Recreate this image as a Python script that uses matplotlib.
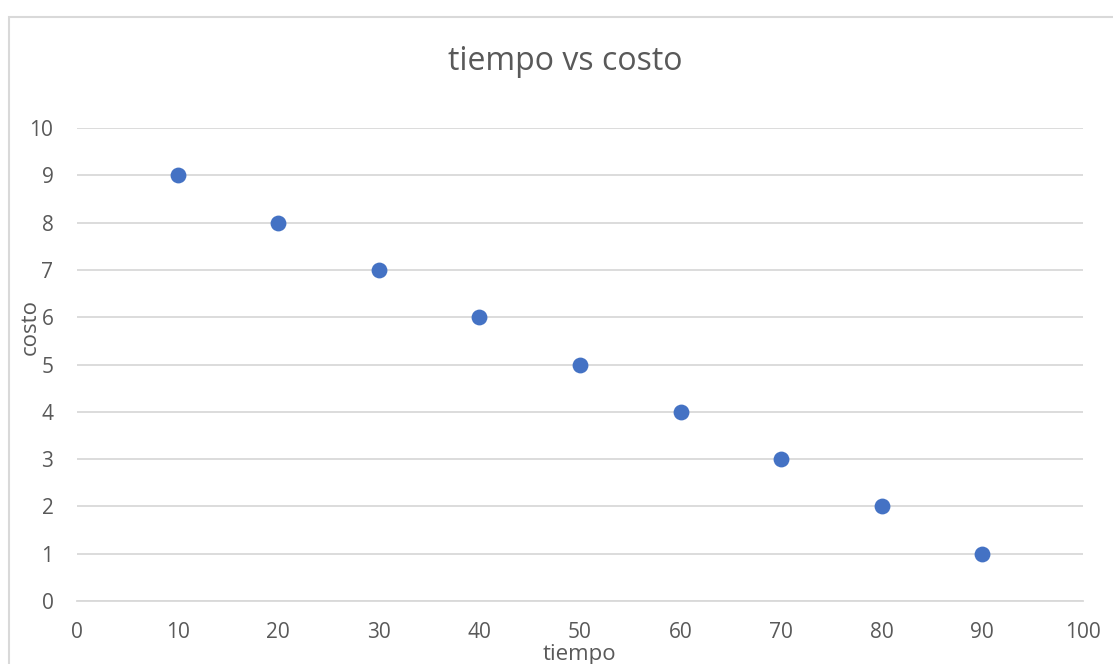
import matplotlib.pyplot as plt
from matplotlib.patches import Rectangle

tiempo = [10, 20, 30, 40, 50, 60, 70, 80, 90]
costo = [9, 8, 7, 6, 5, 4, 3, 2, 1]
ticks_x = [0, 10, 20, 30, 40, 50, 60, 70, 80, 90, 100]
ticks_y = [0, 1, 2, 3, 4, 5, 6, 7, 8, 9, 10]

plt.rcParams['font.family'] = ['Open Sans', 'DejaVu Sans']
gris_texto = '#595959'
gris_linea = '#d9d9d9'

fig = plt.figure(figsize=(11.13, 6.64), dpi=100)
ax = fig.add_axes([0.0692, 0.0949, 0.9038, 0.7123])

ax.scatter(tiempo, costo, s=130, color='#4472C4', zorder=3, linewidths=0)

ax.set_xlim(0, 100)
ax.set_ylim(0, 10)
ax.set_xticks(ticks_x)
ax.set_yticks(ticks_y)
ax.grid(axis='y', color=gris_linea, linewidth=1.3)
ax.set_axisbelow(True)
for lado in ['top', 'right', 'left']:
    ax.spines[lado].set_visible(False)
ax.spines['bottom'].set_color(gris_linea)
ax.spines['bottom'].set_linewidth(1.3)
ax.tick_params(axis='both', length=0, labelsize=15, colors=gris_texto)
ax.tick_params(axis='x', pad=15)
ax.tick_params(axis='y', pad=17)

fig.text(0.508, 0.907, 'tiempo vs costo', ha='center', va='center',
         fontsize=23, color=gris_texto)
fig.text(0.521, 0.014, 'tiempo', ha='center', va='center',
         fontsize=16, color=gris_texto)
fig.text(0.027, 0.508, 'costo', ha='center', va='center', rotation=90,
         fontsize=16, color=gris_texto)

# borde del grafico
fig.patches.append(Rectangle((8.5 / 1113, -0.05), 1.2, 1 - 16.5 / 664 + 0.05,
                             transform=fig.transFigure, fill=False,
                             edgecolor=gris_linea, linewidth=1.5))

fig.savefig('out.png', dpi=100)
